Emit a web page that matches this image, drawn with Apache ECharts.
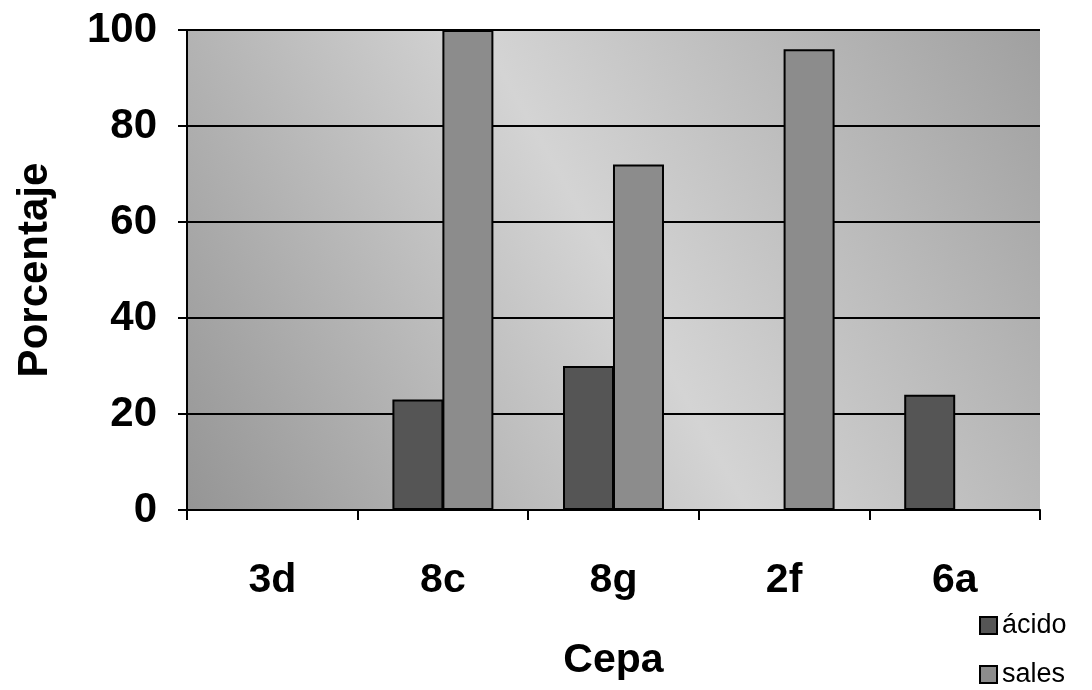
<!DOCTYPE html>
<html>
<head>
<meta charset="utf-8">
<script src="https://cdn.jsdelivr.net/npm/echarts@6/dist/echarts.min.js"></script>
<style>
  html, body { margin: 0; padding: 0; background: #fff; }
  #chart { width: 1092px; height: 690px; }
</style>
</head>
<body>
<div id="chart"></div>
<script>
var categories = ['3d', '8c', '8g', '2f', '6a']
var acido = [0, 23, 30, 0, 24]
var sales = [0, 100, 72, 96, 0]
var yTicks = [0, 20, 40, 60, 80, 100]

var myChart = echarts.init(document.getElementById('chart'))

var option = {
  backgroundColor: '#fff',
  textStyle: { fontFamily: 'Arial, "Liberation Sans", sans-serif' },
  grid: {
    left: 187,
    right: 52,
    top: 30,
    bottom: 180,
    outerBoundsMode: 'none',
    containLabel: false,
    show: true,
    borderWidth: 0,
    // stippled gray background, darker at bottom-left and top-right
    backgroundColor: new echarts.graphic.LinearGradient(0, 1, 1, 0, [
      { offset: 0, color: '#959595' },
      { offset: 0.5, color: '#d4d4d4' },
      { offset: 1, color: '#a0a0a0' }
    ])
  },
  legend: {
    orient: 'vertical',
    left: 979,
    top: 612,
    padding: 0,
    icon: 'rect',
    itemWidth: 17,
    itemHeight: 17,
    itemGap: 22,
    textStyle: { fontSize: 27, color: '#000', fontFamily: 'Arial, "Liberation Sans", sans-serif' },
    data: ['ácido', 'sales']
  },
  xAxis: {
    type: 'category',
    data: categories,
    name: 'Cepa',
    nameLocation: 'middle',
    nameGap: 130,
    nameTextStyle: { fontSize: 41, fontWeight: 'bold', color: '#000' },
    axisLine: { lineStyle: { color: '#000', width: 2 } },
    axisTick: { show: true, length: 10, lineStyle: { color: '#000', width: 2 } },
    axisLabel: { fontSize: 41, fontWeight: 'bold', color: '#000', margin: 50 }
  },
  yAxis: {
    type: 'value',
    min: 0,
    max: 100,
    interval: 20,
    name: 'Porcentaje',
    nameLocation: 'middle',
    nameGap: 131,
    nameTextStyle: { fontSize: 42, fontWeight: 'bold', color: '#000' },
    axisLine: { show: true, lineStyle: { color: '#000', width: 2 } },
    axisTick: { show: true, length: 9, lineStyle: { color: '#000', width: 2 } },
    axisLabel: {
      fontSize: 42,
      fontWeight: 'bold',
      color: '#000',
      margin: 30,
      formatter: function(v) {
        return yTicks.indexOf(v) >= 0 ? String(v) : ''
      }
    },
    splitLine: { show: true, lineStyle: { color: '#000', width: 2 } }
  },
  series: [
    {
      name: 'ácido',
      type: 'bar',
      data: acido,
      barWidth: 51,
      barGap: '-2%',
      itemStyle: { color: '#555555', borderColor: '#000', borderWidth: 2 }
    },
    {
      name: 'sales',
      type: 'bar',
      data: sales,
      barWidth: 51,
      barGap: '-2%',
      itemStyle: { color: '#8c8c8c', borderColor: '#000', borderWidth: 2 }
    }
  ]
}

myChart.setOption(option)
window.onresize = function() {
  myChart.resize()
}
</script>
</body>
</html>
